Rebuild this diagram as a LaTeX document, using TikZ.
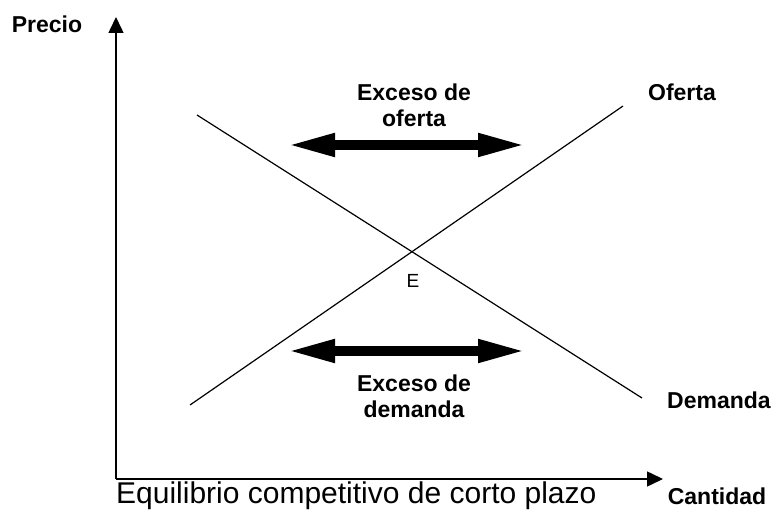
\documentclass[tikz,border=0pt]{standalone}
\usepackage{fontspec}
\setmainfont{Liberation Sans}
\usetikzlibrary{arrows.meta}
\usetikzlibrary{positioning}

\begin{document}
\begin{tikzpicture}[x=1pt,y=-1pt,every node/.style={font=\fontsize{23}{26}\selectfont\bfseries,inner sep=0pt,align=center},
  axis/.style={line width=1.5pt,-{Triangle[length=16pt,width=15pt]}},
  curve/.style={line width=1.2pt},
  exceso/.style={line width=10pt,{Triangle[length=49pt,width=21pt]}-{Triangle[length=49pt,width=21pt]}}]
\useasboundingbox (0,0) rectangle (776,510);
  \coordinate (0) at (116,479);
  \coordinate (py) at (116,17);
  \coordinate (px) at (663,479);
  \coordinate (s1) at (190,405);
  \coordinate (s2) at (623,106);
  \coordinate (d1) at (197,115);
  \coordinate (d2) at (642,398);
  \coordinate (a1) at (286,145);
  \coordinate (a2) at (527,145);
  \coordinate (b1) at (286,351);
  \coordinate (b2) at (527,351);
  \node (precio) at (47,24){Precio};
  \node (oferta) at (682,92){Oferta};
  \node (demanda) at (719,400){Demanda};
  \node[anchor=base] (cantidad) at (717,504){Cantidad};
  \node (exof) at (414,105){Exceso de\\oferta};
  \node (exdem) at (414,396){Exceso de\\demanda};
  \node[font=\fontsize{19}{20}\selectfont] (E) at (413,281){E};
  \node[font=\fontsize{30}{32}\selectfont,anchor=base west] (titulo) at (116,503){Equilibrio competitivo de corto plazo};
  \draw[axis](0)--(py);
  \draw[axis](0)--(px);
  \draw[curve](s1)--(s2);
  \draw[curve](d1)--(d2);
  \draw[exceso](a1)--(a2);
  \draw[exceso](b1)--(b2);
\end{tikzpicture}
\end{document}
